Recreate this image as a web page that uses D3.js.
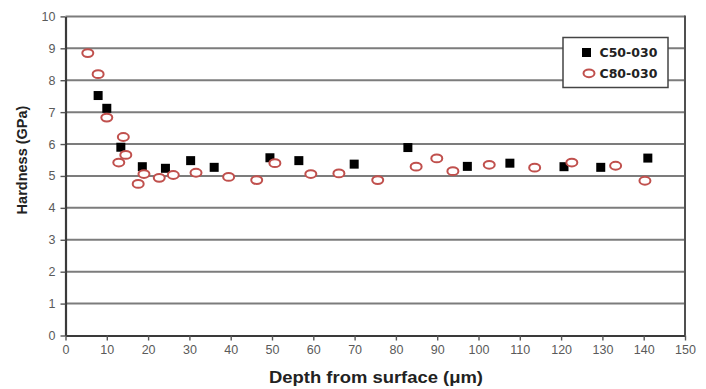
<!DOCTYPE html>
<html><head><meta charset="utf-8">
<script src="https://cdn.jsdelivr.net/npm/d3@7"></script>
<style>body{margin:0;background:#fff}svg{display:block}</style>
</head><body>
<svg id="c" width="706" height="389"></svg>
<script>
const c50x = [7.9,10.0,13.4,18.6,24.2,30.3,36.0,49.5,56.5,69.9,82.9,97.3,107.6,120.7,129.6,141.0];
const c50y = [7.52,7.12,5.90,5.29,5.24,5.48,5.27,5.57,5.48,5.37,5.89,5.30,5.40,5.29,5.27,5.56];
const c80x = [5.4,7.9,10.0,14.0,14.6,12.9,19.0,17.6,22.7,26.1,31.6,39.5,46.3,50.7,59.4,66.2,75.6,84.9,89.9,93.8,102.6,113.6,122.6,133.2,140.3];
const c80y = [8.85,8.19,6.83,6.22,5.66,5.42,5.06,4.75,4.94,5.03,5.10,4.97,4.87,5.40,5.06,5.08,4.87,5.29,5.55,5.15,5.35,5.26,5.42,5.32,4.85];
const xTicks = d3.range(0,151,10);
const yTicks = d3.range(0,11,1);
const seriesNames = ["C50-030","C80-030"];

const svg = d3.select("#c");
const L=65.5,R=685,T=16.4,B=335.5;
const x = d3.scaleLinear().domain([0,150]).range([L,R]);
const y = d3.scaleLinear().domain([0,10]).range([B,T]);
const red = "#c0504d";

// gridlines
svg.append("g").selectAll("line").data(yTicks.filter(d=>d>0)).join("line")
  .attr("x1",L).attr("x2",R).attr("y1",d=>y(d)).attr("y2",d=>y(d))
  .attr("stroke","#7c7c7c").attr("stroke-width",2);
// right border
svg.append("line").attr("x1",R).attr("x2",R).attr("y1",T-1).attr("y2",B)
  .attr("stroke","#505050").attr("stroke-width",2);

const tickFont = "Liberation Sans, Arial, sans-serif";
const ya = svg.append("g").attr("transform",`translate(${L},0)`)
  .call(d3.axisLeft(y).tickValues(yTicks).tickSize(5).tickPadding(5).tickSizeOuter(0));
const xa = svg.append("g").attr("transform",`translate(0,${B})`)
  .call(d3.axisBottom(x).tickValues(xTicks).tickSize(5).tickPadding(5).tickSizeOuter(0));
[ya,xa].forEach(a=>{
  a.select(".domain").attr("stroke","#3a3a3a").attr("stroke-width",2.2);
  a.selectAll(".tick line").attr("stroke","#555").attr("stroke-width",1.4);
  a.selectAll("text").attr("fill","#5a5a5a").attr("font-size",12.5).attr("font-family",tickFont);
});

// axis titles
svg.append("text").attr("x",376).attr("y",383).attr("text-anchor","middle")
  .attr("font-family",tickFont).attr("font-weight","bold").attr("font-size",16).attr("fill","#222")
  .attr("textLength",214).attr("lengthAdjust","spacingAndGlyphs")
  .text("Depth from surface (\u03bcm)");
svg.append("text").attr("transform","translate(27,160) rotate(-90)").attr("text-anchor","middle")
  .attr("font-family",tickFont).attr("font-weight","bold").attr("font-size",14.5).attr("fill","#222")
  .text("Hardness (GPa)");

// series
svg.append("g").selectAll("rect").data(c50x.map((d,i)=>[d,c50y[i]])).join("rect")
  .attr("x",d=>x(d[0])-4.5).attr("y",d=>y(d[1])-4.5).attr("width",9).attr("height",9).attr("fill","#000");
svg.append("g").selectAll("ellipse").data(c80x.map((d,i)=>[d,c80y[i]])).join("ellipse")
  .attr("cx",d=>x(d[0])).attr("cy",d=>y(d[1])).attr("rx",5.5).attr("ry",3.9)
  .attr("fill","#fff").attr("stroke",red).attr("stroke-width",2);

// legend
const lg = svg.append("g");
lg.append("rect").attr("x",563).attr("y",37.5).attr("width",105).attr("height",50)
  .attr("fill","#fff").attr("stroke","#444").attr("stroke-width",1.5);
lg.append("rect").attr("x",582).attr("y",48).attr("width",9).attr("height",9).attr("fill","#000");
lg.append("ellipse").attr("cx",589).attr("cy",73.3).attr("rx",5.5).attr("ry",3.9)
  .attr("fill","#fff").attr("stroke",red).attr("stroke-width",2);
lg.selectAll("text.l").data(seriesNames).join("text").attr("class","l")
  .attr("x",599.5).attr("y",(d,i)=>52.7+i*20.6).attr("dy","0.36em")
  .attr("font-family","DejaVu Sans, sans-serif").attr("font-weight","bold")
  .attr("font-size",12.5).attr("fill","#222").text(d=>d);
</script>
</body></html>
